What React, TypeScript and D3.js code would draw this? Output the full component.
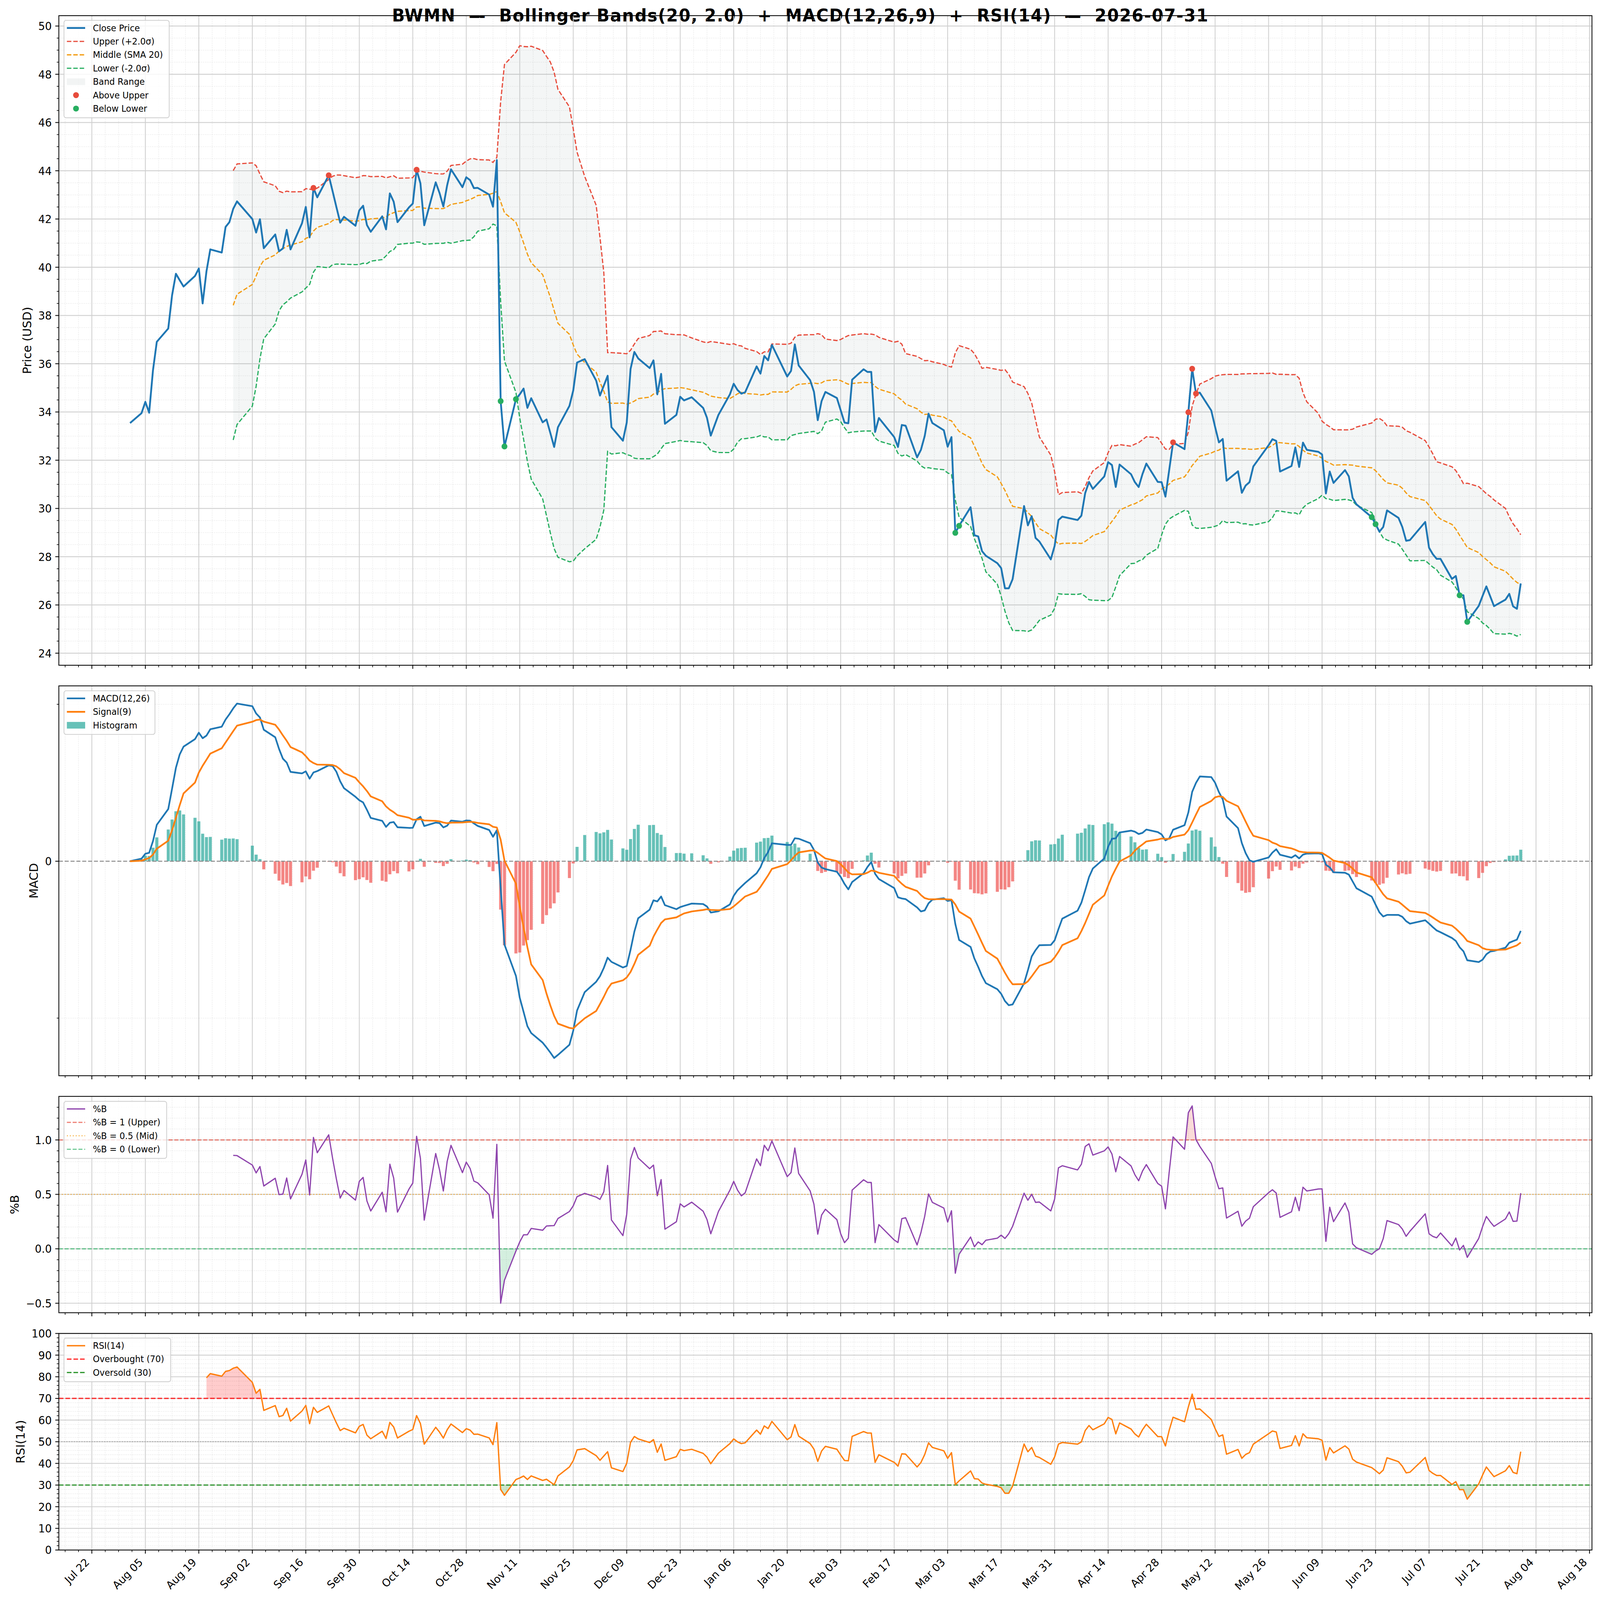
import React from 'react';
import * as d3 from 'd3';

// ---- data ----
const TICKER = 'BWMN';
const AS_OF = '2026-07-31';
const FIRST_DAY = '2025-08-01';
const LAST_DAY = '2026-07-31';
// NYSE closures inside the range (no bars on these days)
const HOLIDAYS = ['2025-09-01', '2025-11-27', '2025-12-25', '2026-01-01', '2026-01-19',
  '2026-02-16', '2026-04-03', '2026-05-25', '2026-06-19', '2026-07-03'];

// daily close, one array per month
const CLOSE_AUG = [33.54, 33.95, 34.42, 33.97, 35.73, 36.91, 37.46, 38.84, 39.73, 39.46, 39.20, 39.64, 39.95, 38.50, 39.83, 40.74, 40.61, 41.67, 41.87, 42.42, 42.73];
const CLOSE_SEP = [42.00, 41.44, 41.99, 40.79, 41.36, 40.66, 40.78, 41.55, 40.74, 41.82, 42.50, 41.24, 43.29, 42.90, 43.81, 43.16, 42.50, 41.85, 42.09, 41.72, 42.36];
const CLOSE_OCT = [42.55, 41.75, 41.47, 42.11, 41.57, 43.06, 42.72, 41.87, 42.48, 42.64, 44.04, 43.48, 41.74, 43.52, 43.08, 42.52, 43.40, 44.06, 43.32, 43.73, 43.61, 43.28, 43.29];
const CLOSE_NOV = [43.01, 42.51, 44.44, 34.45, 32.57, 34.53, 34.73, 34.97, 34.17, 34.57, 33.57, 33.69, 33.13, 32.55, 33.37, 34.25, 34.89, 36.05, 36.19];
const CLOSE_DEC = [35.30, 34.68, 35.09, 35.50, 33.37, 32.81, 33.56, 35.78, 36.49, 36.22, 35.82, 36.14, 34.73, 35.58, 33.51, 33.88, 34.63, 34.48, 34.61, 34.17, 33.76, 33.02];
const CLOSE_JAN = [33.88, 34.73, 35.17, 34.91, 34.76, 34.82, 35.89, 35.59, 36.32, 36.14, 36.78, 35.47, 35.70, 36.80, 35.93, 35.32, 34.84, 33.66, 34.45, 34.83];
const CLOSE_FEB = [34.58, 34.07, 33.56, 33.53, 35.34, 35.77, 35.66, 35.66, 33.17, 33.75, 32.96, 32.55, 33.46, 33.43, 32.12, 32.43, 33.01, 33.93, 33.54];
const CLOSE_MAR = [33.24, 32.56, 32.96, 28.99, 29.28, 30.05, 28.89, 28.84, 28.23, 28.04, 27.73, 27.53, 26.69, 26.69, 27.07, 30.10, 29.30, 29.68, 28.78, 28.63, 27.89, 28.45];
const CLOSE_APR = [29.52, 29.66, 29.52, 29.70, 30.64, 31.10, 30.81, 31.33, 31.92, 31.80, 30.89, 31.82, 31.42, 31.09, 30.89, 31.43, 31.86, 31.10, 31.09, 30.49, 31.61];
const CLOSE_MAY = [32.74, 32.46, 33.99, 35.79, 34.76, 34.80, 34.06, 33.38, 32.74, 32.88, 31.15, 31.54, 30.65, 30.95, 31.09, 31.74, 32.62, 32.87, 32.80, 31.53];
const CLOSE_JUN = [31.76, 32.53, 31.72, 32.73, 32.43, 32.35, 32.24, 30.62, 31.53, 31.06, 31.59, 31.33, 30.44, 30.17, 29.64, 29.35, 29.04, 29.23, 29.92, 29.61, 29.23];
const CLOSE_JUL = [28.66, 28.69, 29.44, 28.37, 28.10, 27.91, 27.91, 27.08, 27.20, 26.40, 26.40, 25.30, 25.96, 26.37, 26.77, 26.36, 25.95, 26.22, 26.46, 25.94, 25.84, 26.89];

// indicator settings
const BB_WIN = 20, BB_K = 2.0;
const MACD_FAST = 12, MACD_SLOW = 26, MACD_SIG = 9;
const RSI_WIN = 14;

// axis ticks
const PRICE_TICKS = d3.range(24, 51, 2);
const PCTB_TICKS = [-0.5, 0, 0.5, 1.0];
const RSI_TICKS = d3.range(0, 101, 10);
const X_TICK_START = '2025-07-22';

// ---- derived series ----
const DAY = 864e5;
const fmtDay = d3.utcFormat('%Y-%m-%d');
const dates = d3.utcDay.range(new Date(FIRST_DAY), new Date(+new Date(LAST_DAY) + DAY))
  .filter(d => d.getUTCDay() % 6 !== 0 && !HOLIDAYS.includes(fmtDay(d)));
const close = [...CLOSE_AUG, ...CLOSE_SEP, ...CLOSE_OCT, ...CLOSE_NOV, ...CLOSE_DEC, ...CLOSE_JAN,
  ...CLOSE_FEB, ...CLOSE_MAR, ...CLOSE_APR, ...CLOSE_MAY, ...CLOSE_JUN, ...CLOSE_JUL];

type V = number | null;
const rolling = (arr: number[], n: number, fn: (w: number[]) => number): V[] =>
  arr.map((_, i) => (i < n - 1 ? null : fn(arr.slice(i - n + 1, i + 1))));
const ema = (arr: number[], span: number) => {
  const a = 2 / (span + 1);
  let prev = arr[0];
  return arr.map((v, i) => (prev = i === 0 ? v : a * v + (1 - a) * prev));
};

const mid = rolling(close, BB_WIN, w => d3.mean(w)!);
const sd = rolling(close, BB_WIN, w => d3.deviation(w)!);
const upper: V[] = mid.map((m, i) => (m == null ? null : m + BB_K * sd[i]!));
const lower: V[] = mid.map((m, i) => (m == null ? null : m - BB_K * sd[i]!));
const pctB: V[] = close.map((c, i) => (upper[i] == null ? null : (c - lower[i]!) / (upper[i]! - lower[i]!)));

const emaF = ema(close, MACD_FAST), emaS = ema(close, MACD_SLOW);
const macd = emaF.map((v, i) => v - emaS[i]);
const signal = ema(macd, MACD_SIG);
const hist = macd.map((v, i) => v - signal[i]);

// Wilder smoothing (alpha = 1/14), first value after 14 changes
const wilder = (arr: number[]) => {
  const a = 1 / RSI_WIN;
  let prev = 0;
  return arr.map((v, i) => (i === 0 ? 0 : (prev = i === 1 ? v : prev * (1 - a) + v * a)));
};
const delta = close.map((v, i) => (i === 0 ? 0 : v - close[i - 1]));
const avgGain = wilder(delta.map(d => Math.max(d, 0)));
const avgLoss = wilder(delta.map(d => Math.max(-d, 0)));
const rsi: V[] = close.map((_, i) =>
  i < RSI_WIN ? null : avgLoss[i] === 0 ? 100 : 100 - 100 / (1 + avgGain[i] / avgLoss[i]));

// ---- layout ----
const W = 4378, H = 4322;
const L = 161, R = 4356;
const P_PRICE = { top: 42.3, bottom: 1797 };
const P_MACD = { top: 1852.7, bottom: 2905.8 };
const P_PCTB = { top: 2961.6, bottom: 3546 };
const P_RSI = { top: 3602, bottom: 4187 };
const FONT = "'DejaVu Sans', sans-serif";
const TICK_FS = 29, LEG_FS = 23.5, LABEL_FS = 32, TITLE_FS = 46;
const MAJ_LEN = 9.7, MIN_LEN = 5.6;
const GRID_MAJ = '#cfcfcf', GRID_MIN = '#dcdcdc';

const spanMs = +dates[dates.length - 1] - +dates[0] + 0.8 * DAY;
const x = d3.scaleUtc()
  .domain([new Date(+dates[0] - 0.4 * DAY - 0.05 * spanMs), new Date(+dates[dates.length - 1] + 0.4 * DAY + 0.05 * spanMs)])
  .range([L, R]);
const [xLo, xHi] = x.domain().map(Number);
const xMajor: Date[] = [];
for (let t = +new Date(X_TICK_START); t <= xHi; t += 14 * DAY) xMajor.push(new Date(t));
const xMinor: Date[] = [];
for (let t = +new Date(X_TICK_START) - 14 * DAY; t <= xHi; t += 3.5 * DAY) {
  if (t >= xLo && Math.round((t - +new Date(X_TICK_START)) / (3.5 * DAY)) % 4 !== 0) xMinor.push(new Date(t));
}

const yP = d3.scaleLinear().domain([23.5, 50.43]).range([P_PRICE.bottom, P_PRICE.top]);
const macdExt = d3.extent([...macd, ...signal, ...hist, 0]) as [number, number];
const macdPad = 0.05 * (macdExt[1] - macdExt[0]);
const yM = d3.scaleLinear().domain([macdExt[0] - macdPad, macdExt[1] + macdPad]).range([P_MACD.bottom, P_MACD.top]);
const yB = d3.scaleLinear().domain([-0.587, 1.40]).range([P_PCTB.bottom, P_PCTB.top]);
const yR = d3.scaleLinear().domain([0, 100]).range([P_RSI.bottom, P_RSI.top]);

const minorOf = (y: d3.ScaleLinear<number, number>, step: number, every: number) => {
  const [a, b] = y.domain();
  const out: number[] = [];
  for (let k = Math.ceil(a / step + 1e-6); k * step < b - 1e-6; k++) if (k % every !== 0) out.push(k * step);
  return out;
};

const idx = d3.range(dates.length);
const lineOf = (vals: V[], y: d3.ScaleLinear<number, number>) =>
  d3.line<number>().defined(i => vals[i] != null).x(i => x(dates[i])).y(i => y(vals[i] as number))(idx) ?? '';
const bandOf = (lo: V[], hi: V[] | number, y: d3.ScaleLinear<number, number>) =>
  d3.area<number>().defined(i => lo[i] != null)
    .x(i => x(dates[i]))
    .y0(i => y(lo[i] as number))
    .y1(i => y(typeof hi === 'number' ? hi : (hi[i] as number)))(idx) ?? '';

const minus = (s: string) => s.replace('-', '\u2212');
// keep the double spaces of the title visible
const keepSpaces = (s: string) => s.replace(/ {2}/g, ' \u00a0');

type Item = { label: string; kind: 'line' | 'patch' | 'dot'; color: string; width?: number; dash?: string };

function Legend({ x0, y0, w, items }: { x0: number; y0: number; w: number; items: Item[] }) {
  const pitch = 36.3;
  return (
    <g>
      <rect x={x0} y={y0} width={w} height={items.length * pitch + 9} rx={6}
        fill="#fff" fillOpacity={0.8} stroke="#cccccc" strokeWidth={2} />
      {items.map((it, i) => {
        const cy = y0 + 20.5 + i * pitch;
        return (
          <g key={it.label}>
            {it.kind === 'line' && (
              <line x1={x0 + 8} x2={x0 + 58} y1={cy} y2={cy} stroke={it.color} strokeWidth={it.width} strokeDasharray={it.dash} />
            )}
            {it.kind === 'patch' && (
              <rect x={x0 + 8} y={cy - 9} width={50} height={18} fill={it.color} />
            )}
            {it.kind === 'dot' && <circle cx={x0 + 33} cy={cy} r={8} fill={it.color} />}
            <text x={x0 + 79} y={cy + 8.4} fontSize={LEG_FS}>{it.label}</text>
          </g>
        );
      })}
    </g>
  );
}

function Grid({ p, y, major, minor }: { p: { top: number; bottom: number }; y: d3.ScaleLinear<number, number>; major: number[]; minor: number[] }) {
  return (
    <g>
      {xMinor.map(t => <line key={'xm' + +t} x1={x(t)} x2={x(t)} y1={p.top} y2={p.bottom} stroke={GRID_MIN} strokeWidth={1.6} strokeDasharray="1.6,3.4" />)}
      {minor.map(v => <line key={'ym' + v} x1={L} x2={R} y1={y(v)} y2={y(v)} stroke={GRID_MIN} strokeWidth={1.6} strokeDasharray="1.6,3.4" />)}
      {xMajor.map(t => <line key={'xM' + +t} x1={x(t)} x2={x(t)} y1={p.top} y2={p.bottom} stroke={GRID_MAJ} strokeWidth={2.2} />)}
      {major.map(v => <line key={'yM' + v} x1={L} x2={R} y1={y(v)} y2={y(v)} stroke={GRID_MAJ} strokeWidth={2.2} />)}
    </g>
  );
}

function Frame({ p, y, major, minor, fmt, label, labelX, xLabels }: {
  p: { top: number; bottom: number }; y: d3.ScaleLinear<number, number>; major: number[]; minor: number[];
  fmt: (v: number) => string; label: string; labelX: number; xLabels?: boolean;
}) {
  const fx = d3.utcFormat('%b %d');
  return (
    <g>
      <rect x={L} y={p.top} width={R - L} height={p.bottom - p.top} fill="none" stroke="#000" strokeWidth={2.2} />
      {minor.map(v => <line key={'m' + v} x1={L - MIN_LEN} x2={L} y1={y(v)} y2={y(v)} stroke="#000" strokeWidth={1.7} />)}
      {major.map(v => (
        <g key={'M' + v}>
          <line x1={L - MAJ_LEN} x2={L} y1={y(v)} y2={y(v)} stroke="#000" strokeWidth={2.2} />
          <text x={L - MAJ_LEN - 9.7} y={y(v) + 0.38 * TICK_FS} fontSize={TICK_FS} textAnchor="end">{fmt(v)}</text>
        </g>
      ))}
      {xMinor.map(t => <line key={'xm' + +t} x1={x(t)} x2={x(t)} y1={p.bottom} y2={p.bottom + MIN_LEN} stroke="#000" strokeWidth={1.7} />)}
      {xMajor.map(t => <line key={'xM' + +t} x1={x(t)} x2={x(t)} y1={p.bottom} y2={p.bottom + MAJ_LEN} stroke="#000" strokeWidth={2.2} />)}
      {xLabels && xMajor.map(t => (
        <text key={'xl' + +t} fontSize={TICK_FS} textAnchor="end"
          transform={`translate(${x(t) - 4.9},${p.bottom + 35}) rotate(-45)`}>{fx(t)}</text>
      ))}
      <text fontSize={LABEL_FS} textAnchor="middle"
        transform={`translate(${labelX},${(p.top + p.bottom) / 2}) rotate(-90)`}>{label}</text>
    </g>
  );
}

const ClipRect = ({ id, p }: { id: string; p: { top: number; bottom: number } }) => (
  <clipPath id={id}><rect x={L} y={p.top} width={R - L} height={p.bottom - p.top} /></clipPath>
);

export default function App() {
  const above = idx.filter(i => upper[i] != null && close[i] > upper[i]!);
  const below = idx.filter(i => lower[i] != null && close[i] < lower[i]!);
  const bandDash = '12.2,5.3';
  const macdMinor = minorOf(yM, 2, 1000);
  const title = `${TICKER}  \u2014  Bollinger Bands(${BB_WIN}, ${BB_K.toFixed(1)})  +  MACD(${MACD_FAST},${MACD_SLOW},${MACD_SIG})  +  RSI(${RSI_WIN})  \u2014  ${AS_OF}`;

  return (
    <>
      <style>{'html,body{margin:0;padding:0;overflow:hidden}'}</style>
      <svg viewBox={`0 0 ${W} ${H}`} preserveAspectRatio="none"
        style={{ display: 'block', width: '100vw', height: '100vh', background: '#fff' }} fontFamily={FONT}>
        <defs>
          <ClipRect id="cp" p={P_PRICE} />
          <ClipRect id="cm" p={P_MACD} />
          <ClipRect id="cb" p={P_PCTB} />
          <ClipRect id="cr" p={P_RSI} />
          <clipPath id="cbHi"><rect x={L} y={P_PCTB.top} width={R - L} height={yB(1) - P_PCTB.top} /></clipPath>
          <clipPath id="cbLo"><rect x={L} y={yB(0)} width={R - L} height={P_PCTB.bottom - yB(0)} /></clipPath>
          <clipPath id="crHi"><rect x={L} y={P_RSI.top} width={R - L} height={yR(70) - P_RSI.top} /></clipPath>
          <clipPath id="crLo"><rect x={L} y={yR(30)} width={R - L} height={P_RSI.bottom - yR(30)} /></clipPath>
        </defs>
        <rect width={W} height={H} fill="#fff" />

        <text x={W / 2} y={58} textAnchor="middle" fontSize={TITLE_FS} fontWeight="bold"
          textLength={2233} lengthAdjust="spacing">
          {keepSpaces(title)}
        </text>

        {/* price + bollinger */}
        <Grid p={P_PRICE} y={yP} major={PRICE_TICKS} minor={minorOf(yP, 0.5, 4)} />
        <g clipPath="url(#cp)">
          <path d={bandOf(lower, upper, yP)} fill="rgba(149,165,166,0.1)" />
          <path d={lineOf(upper, yP)} fill="none" stroke="#e74c3c" strokeWidth={3.3} strokeDasharray={bandDash} />
          <path d={lineOf(mid, yP)} fill="none" stroke="#f39c12" strokeWidth={3.3} strokeDasharray={bandDash} />
          <path d={lineOf(lower, yP)} fill="none" stroke="#27ae60" strokeWidth={3.3} strokeDasharray={bandDash} />
          <path d={lineOf(close, yP)} fill="none" stroke="#1f77b4" strokeWidth={5} strokeLinejoin="round" />
          {above.map(i => <circle key={'a' + i} cx={x(dates[i])} cy={yP(close[i])} r={8} fill="#e74c3c" />)}
          {below.map(i => <circle key={'b' + i} cx={x(dates[i])} cy={yP(close[i])} r={8} fill="#27ae60" />)}
        </g>
        <Frame p={P_PRICE} y={yP} major={PRICE_TICKS} minor={minorOf(yP, 0.5, 4)} fmt={v => String(v)} label="Price (USD)" labelX={85.5} />
        <Legend x0={175} y0={55} w={288} items={[
          { label: 'Close Price', kind: 'line', color: '#1f77b4', width: 5 },
          { label: 'Upper (+2.0\u03c3)', kind: 'line', color: '#e74c3c', width: 3.3, dash: bandDash },
          { label: 'Middle (SMA 20)', kind: 'line', color: '#f39c12', width: 3.3, dash: bandDash },
          { label: 'Lower (-2.0\u03c3)', kind: 'line', color: '#27ae60', width: 3.3, dash: bandDash },
          { label: 'Band Range', kind: 'patch', color: 'rgba(149,165,166,0.12)' },
          { label: 'Above Upper', kind: 'dot', color: '#e74c3c' },
          { label: 'Below Lower', kind: 'dot', color: '#27ae60' },
        ]} />

        {/* macd */}
        <Grid p={P_MACD} y={yM} major={[]} minor={macdMinor} />
        <g clipPath="url(#cm)">
          {idx.map(i => (
            <rect key={'h' + i} x={x(new Date(+dates[i] - 0.4 * DAY))} width={x(new Date(+dates[i] + 0.4 * DAY)) - x(new Date(+dates[i] - 0.4 * DAY))}
              y={Math.min(yM(0), yM(hist[i]))} height={Math.abs(yM(hist[i]) - yM(0))}
              fill={hist[i] >= 0 ? 'rgba(38,166,154,0.7)' : 'rgba(239,83,80,0.7)'} />
          ))}
          <line x1={L} x2={R} y1={yM(0)} y2={yM(0)} stroke="#8c8c8c" strokeWidth={2.8} strokeDasharray="11,5" />
          <path d={lineOf(macd, yM)} fill="none" stroke="#1f77b4" strokeWidth={4.6} strokeLinejoin="round" />
          <path d={lineOf(signal, yM)} fill="none" stroke="#ff7f0e" strokeWidth={4.6} strokeLinejoin="round" />
        </g>
        <Frame p={P_MACD} y={yM} major={[0]} minor={macdMinor} fmt={() => '0'} label="MACD" labelX={104} />
        <Legend x0={175} y0={1866} w={249} items={[
          { label: `MACD(${MACD_FAST},${MACD_SLOW})`, kind: 'line', color: '#1f77b4', width: 4.6 },
          { label: `Signal(${MACD_SIG})`, kind: 'line', color: '#ff7f0e', width: 4.6 },
          { label: 'Histogram', kind: 'patch', color: 'rgba(38,166,154,0.7)' },
        ]} />

        {/* %B */}
        <Grid p={P_PCTB} y={yB} major={PCTB_TICKS} minor={minorOf(yB, 0.1, 5)} />
        <g clipPath="url(#cb)">
          <path d={bandOf(pctB, 1, yB)} fill="rgba(231,76,60,0.2)" clipPath="url(#cbHi)" />
          <path d={bandOf(pctB, 0, yB)} fill="rgba(39,174,96,0.2)" clipPath="url(#cbLo)" />
          <line x1={L} x2={R} y1={yB(1)} y2={yB(1)} stroke="rgba(231,76,60,0.7)" strokeWidth={3} strokeDasharray="11,4.8" />
          <line x1={L} x2={R} y1={yB(0.5)} y2={yB(0.5)} stroke="rgba(243,156,18,0.7)" strokeWidth={3} strokeDasharray="3,5" />
          <line x1={L} x2={R} y1={yB(0)} y2={yB(0)} stroke="rgba(39,174,96,0.7)" strokeWidth={3} strokeDasharray="11,4.8" />
          <path d={lineOf(pctB, yB)} fill="none" stroke="#8e44ad" strokeWidth={3.3} strokeLinejoin="round" />
        </g>
        <Frame p={P_PCTB} y={yB} major={PCTB_TICKS} minor={minorOf(yB, 0.1, 5)} fmt={v => minus(v.toFixed(1))} label="%B" labelX={51} />
        <Legend x0={175} y0={2975} w={281} items={[
          { label: '%B', kind: 'line', color: '#8e44ad', width: 3.3 },
          { label: '%B = 1 (Upper)', kind: 'line', color: 'rgba(231,76,60,0.7)', width: 3, dash: '11,4.8' },
          { label: '%B = 0.5 (Mid)', kind: 'line', color: 'rgba(243,156,18,0.7)', width: 3, dash: '3,5' },
          { label: '%B = 0 (Lower)', kind: 'line', color: 'rgba(39,174,96,0.7)', width: 3, dash: '11,4.8' },
        ]} />

        {/* RSI */}
        <Grid p={P_RSI} y={yR} major={RSI_TICKS} minor={minorOf(yR, 2, 5)} />
        <g clipPath="url(#cr)">
          <path d={bandOf(rsi, 70, yR)} fill="rgba(255,0,0,0.2)" clipPath="url(#crHi)" />
          <path d={bandOf(rsi, 30, yR)} fill="rgba(0,128,0,0.2)" clipPath="url(#crLo)" />
          <line x1={L} x2={R} y1={yR(70)} y2={yR(70)} stroke="rgba(255,0,0,0.8)" strokeWidth={3.4} strokeDasharray="12.6,5.4" />
          <line x1={L} x2={R} y1={yR(30)} y2={yR(30)} stroke="rgba(0,128,0,0.8)" strokeWidth={3.4} strokeDasharray="12.6,5.4" />
          <line x1={L} x2={R} y1={yR(50)} y2={yR(50)} stroke="rgba(128,128,128,0.6)" strokeWidth={2.6} strokeDasharray="2.6,4.3" />
          <path d={lineOf(rsi, yR)} fill="none" stroke="#ff7f0e" strokeWidth={3.6} strokeLinejoin="round" />
        </g>
        <Frame p={P_RSI} y={yR} major={RSI_TICKS} minor={minorOf(yR, 2, 5)} fmt={v => String(v)} label={`RSI(${RSI_WIN})`} labelX={67.5} xLabels />
        <Legend x0={175} y0={3614.5} w={292} items={[
          { label: `RSI(${RSI_WIN})`, kind: 'line', color: '#ff7f0e', width: 3.6 },
          { label: 'Overbought (70)', kind: 'line', color: 'rgba(255,0,0,0.8)', width: 3.4, dash: '12.6,5.4' },
          { label: 'Oversold (30)', kind: 'line', color: 'rgba(0,128,0,0.8)', width: 3.4, dash: '12.6,5.4' },
        ]} />
      </svg>
    </>
  );
}
